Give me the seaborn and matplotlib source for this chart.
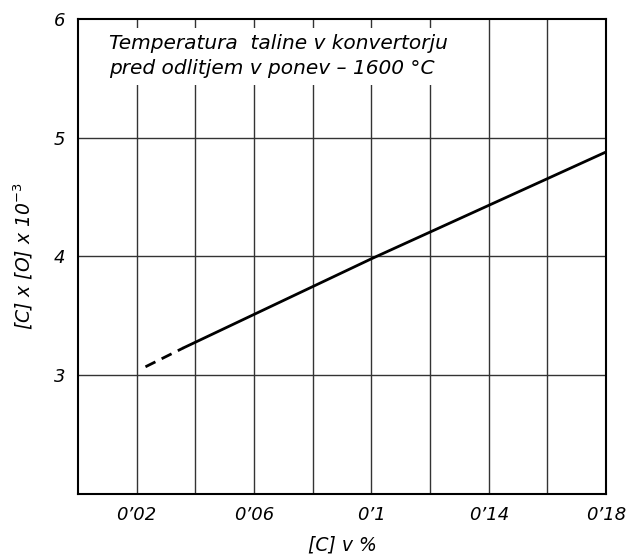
import matplotlib
matplotlib.use("Agg")
import matplotlib.pyplot as plt
import seaborn as sns
import pandas as pd

# Carbon content [C] in % and the product [C] x [O] x 10^-3
c_dashed = [0.023, 0.036]
co_dashed = [3.07, 3.23]
c_solid = [0.036, 0.10, 0.18]
co_solid = [3.23, 3.98, 4.88]

x_ticks = [0.02, 0.06, 0.10, 0.14, 0.18]
x_tick_labels = ["0\u201902", "0\u201906", "0\u20191", "0\u201914", "0\u201918"]
y_ticks = [3, 4, 5, 6]
y_tick_labels = ["3", "4", "5", "6"]

sns.set_theme(style="white")
plt.rcParams["font.family"] = ["DejaVu Sans"]
plt.rcParams["text.color"] = "black"
plt.rcParams["axes.labelcolor"] = "black"
plt.rcParams["xtick.color"] = "black"
plt.rcParams["ytick.color"] = "black"

fig = plt.figure(figsize=(6.34, 5.58), dpi=100)
ax = fig.add_axes([0.123, 0.115, 0.833, 0.851])

df_dashed = pd.DataFrame({"c": c_dashed, "co": co_dashed})
df_solid = pd.DataFrame({"c": c_solid, "co": co_solid})

sns.lineplot(data=df_dashed, x="c", y="co", ax=ax, color="black", lw=2.0,
             linestyle=(0, (4, 2.5)), zorder=3)
sns.lineplot(data=df_solid, x="c", y="co", ax=ax, color="black", lw=2.0, zorder=3)

ax.set_xlim(0, 0.18)
ax.set_ylim(2, 6)

# grid every 0.02 in x and every unit in y
for gx in [0.02 * i for i in range(1, 9)]:
    ax.axvline(gx, color="#333333", lw=1.0, zorder=1)
for gy in [3, 4, 5]:
    ax.axhline(gy, color="#333333", lw=1.0, zorder=1)

ax.set_xticks(x_ticks)
ax.set_xticklabels(x_tick_labels, fontsize=13, style="italic")
ax.set_yticks(y_ticks)
ax.set_yticklabels(y_tick_labels, fontsize=13, style="italic")
ax.tick_params(length=0, pad=9)

for sp in ax.spines.values():
    sp.set_color("black")
    sp.set_linewidth(1.5)

ax.set_xlabel("[C] v %", fontsize=13.5, style="italic", labelpad=8)
ax.set_ylabel(r"[C] x [O] x 10$^{-3}$", fontsize=13.5, style="italic", labelpad=14)

ax.text(0.0105, 5.87, "Temperatura  taline v konvertorju\npred odlitjem v ponev \u2013 1600 \u00b0C",
        fontsize=14.5, style="italic", ha="left", va="top", linespacing=1.4,
        bbox=dict(facecolor="white", edgecolor="none", pad=5), zorder=4)

fig.savefig("out.png", dpi=100)
